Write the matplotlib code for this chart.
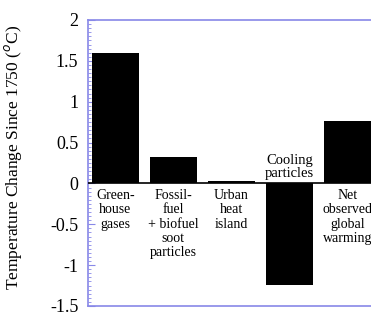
import matplotlib
matplotlib.use("Agg")
import matplotlib.pyplot as plt
from matplotlib.ticker import MultipleLocator

plt.rcParams['font.family'] = ['Liberation Serif', 'DejaVu Serif']

labels = ["Green-\nhouse\ngases",
          "Fossil-\nfuel\n+ biofuel\nsoot\nparticles",
          "Urban\nheat\nisland",
          "Cooling\nparticles",
          "Net\nobserved\nglobal\nwarming"]
values = [1.6, 0.32, 0.03, -1.24, 0.77]
yticks = [-1.5, -1, -0.5, 0, 0.5, 1, 1.5, 2]
ytick_labels = ["-1.5", "-1", "-0.5", "0", "0.5", "1", "1.5", "2"]

spine_col = '#8888e8'

fig = plt.figure(figsize=(3.71, 3.12), dpi=100)
ax = fig.add_axes([88 / 371, 1 - 306 / 312, 300 / 371, 286 / 312])

x = list(range(len(values)))
ax.bar(x, values, width=0.81, color='black', zorder=2)
ax.axhline(0, color='black', lw=1.2, zorder=3)

for xi, v, lab in zip(x, values, labels):
    if v >= 0:
        ax.text(xi, -0.07, lab, ha='center', va='top', fontsize=10,
                linespacing=1.12, zorder=4)
    else:
        ax.text(xi, 0.04, lab, ha='center', va='bottom', fontsize=10.5,
                linespacing=1.05, zorder=4)

ax.set_xlim(-0.47, 4.7)
ax.set_ylim(-1.5, 2)
ax.set_xticks([])
ax.set_yticks(yticks)
ax.set_yticklabels(ytick_labels, fontsize=13)
ax.yaxis.set_minor_locator(MultipleLocator(0.05))
ax.tick_params(axis='y', which='major', direction='in', length=5, color=spine_col, pad=7)
ax.tick_params(axis='y', which='minor', direction='in', length=2.5, color=spine_col)

for s in ['left', 'top', 'bottom']:
    ax.spines[s].set_color(spine_col)
    ax.spines[s].set_linewidth(1.2)
ax.spines['right'].set_visible(False)

fig.text(0.035, 1 - 157 / 312, "Temperature Change Since 1750 ($^o$C)",
         rotation=90, ha='center', va='center', fontsize=12.5)

fig.savefig("out.png", dpi=100)
